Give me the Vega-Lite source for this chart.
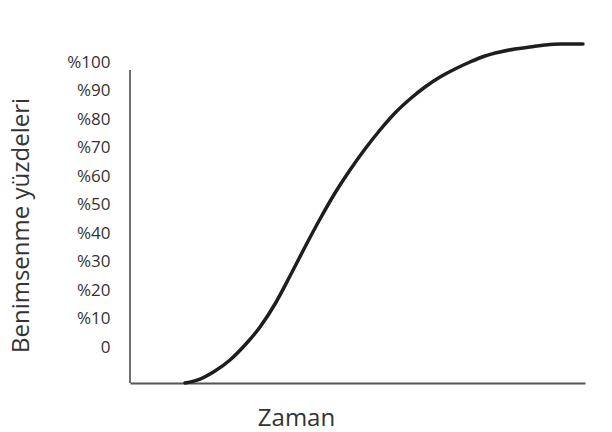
{
  "$schema": "https://vega.github.io/schema/vega-lite/v6.json",
  "width": 455,
  "height": 343,
  "autosize": "none",
  "padding": {"left": 130, "top": 40, "right": 27, "bottom": 49},
  "background": "white",
  "config": {"view": {"stroke": null}, "font": "Open Sans", "axis": {"labelOverlap": false}},
  "data": {
    "values": [
      {"zaman": 55, "yuzde": -12.63},
      {"zaman": 70, "yuzde": -11.23},
      {"zaman": 85, "yuzde": -8.42},
      {"zaman": 100, "yuzde": -4.56},
      {"zaman": 115, "yuzde": 0.70},
      {"zaman": 130, "yuzde": 7.02},
      {"zaman": 145, "yuzde": 15.09},
      {"zaman": 160, "yuzde": 24.91},
      {"zaman": 175, "yuzde": 35.09},
      {"zaman": 190, "yuzde": 44.91},
      {"zaman": 205, "yuzde": 54.04},
      {"zaman": 220, "yuzde": 62.11},
      {"zaman": 235, "yuzde": 69.47},
      {"zaman": 250, "yuzde": 76.14},
      {"zaman": 265, "yuzde": 82.11},
      {"zaman": 280, "yuzde": 87.02},
      {"zaman": 295, "yuzde": 91.23},
      {"zaman": 310, "yuzde": 94.74},
      {"zaman": 325, "yuzde": 97.54},
      {"zaman": 340, "yuzde": 100.0},
      {"zaman": 355, "yuzde": 102.11},
      {"zaman": 370, "yuzde": 103.51},
      {"zaman": 385, "yuzde": 104.56},
      {"zaman": 400, "yuzde": 105.26},
      {"zaman": 415, "yuzde": 105.96},
      {"zaman": 430, "yuzde": 106.32},
      {"zaman": 453, "yuzde": 106.32}
    ]
  },
  "layer": [
    {
      "mark": {"type": "line", "interpolate": "monotone", "color": "#1e1e1e", "strokeWidth": 3.5, "strokeCap": "round"},
      "encoding": {
        "x": {
          "field": "zaman", "type": "quantitative",
          "scale": {"domain": [0, 455], "nice": false, "zero": false},
          "axis": {"ticks": false, "labels": false, "grid": false, "domainColor": "#555555", "domainWidth": 2,
            "title": "Zaman", "titleFontSize": 24, "titleFontWeight": "normal", "titleColor": "#333333",
            "titleX": 166, "titleY": 35, "titleBaseline": "middle", "titleAlign": "center"}
        },
        "y": {
          "field": "yuzde", "type": "quantitative",
          "scale": {"domain": [-12.63, 107.72], "nice": false, "zero": false},
          "axis": {"values": [0, 10, 20, 30, 40, 50, 60, 70, 80, 90, 100],
            "labelExpr": "datum.value == 0 ? '0' : '%' + datum.value",
            "ticks": false, "grid": false, "domain": false,
            "labelPadding": 20, "labelFontSize": 17, "labelColor": "#333333", "labelOverlap": false, "labelBound": false,
            "title": "Benimsenme yüzdeleri", "titleFontSize": 24, "titleFontWeight": "normal", "titleColor": "#333333",
            "titleX": -109, "titleY": 185, "titleAngle": -90, "titleAlign": "center", "titleBaseline": "middle"}
        }
      }
    },
    {
      "mark": {"type": "rule", "color": "#6e6e6e", "strokeWidth": 2},
      "encoding": {
        "x": {"datum": 0, "type": "quantitative",
          "axis": {"ticks": false, "labels": false, "grid": false, "domainColor": "#555555", "domainWidth": 2,
            "title": "Zaman", "titleFontSize": 24, "titleFontWeight": "normal", "titleColor": "#333333",
            "titleX": 166, "titleY": 35, "titleBaseline": "middle", "titleAlign": "center"}},
        "y": {"datum": -12.63, "type": "quantitative",
          "axis": {"values": [0, 10, 20, 30, 40, 50, 60, 70, 80, 90, 100],
            "labelExpr": "datum.value == 0 ? '0' : '%' + datum.value",
            "ticks": false, "grid": false, "domain": false,
            "labelPadding": 20, "labelFontSize": 17, "labelColor": "#333333", "labelOverlap": false, "labelBound": false,
            "title": "Benimsenme yüzdeleri", "titleFontSize": 24, "titleFontWeight": "normal", "titleColor": "#333333",
            "titleX": -109, "titleY": 185, "titleAngle": -90, "titleAlign": "center", "titleBaseline": "middle"}},
        "y2": {"datum": 97.2}
      }
    }
  ]
}
